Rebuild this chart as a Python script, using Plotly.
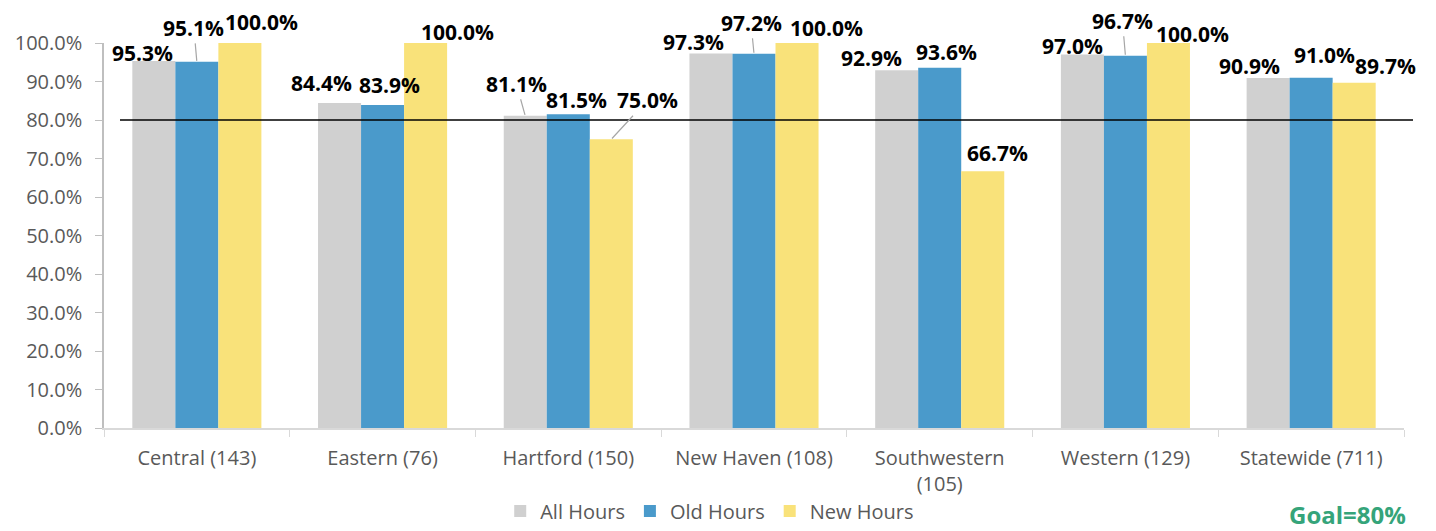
import plotly.graph_objects as go

# data
regions = ["Central (143)", "Eastern (76)", "Hartford (150)", "New Haven (108)",
           "Southwestern<br>(105)", "Western (129)", "Statewide (711)"]
all_hours = [0.953, 0.844, 0.811, 0.973, 0.929, 0.970, 0.909]
old_hours = [0.951, 0.839, 0.815, 0.972, 0.936, 0.967, 0.910]
new_hours = [1.000, 1.000, 0.750, 1.000, 0.667, 1.000, 0.897]
series_names = ["All Hours", "Old Hours", "New Hours"]
GOAL = 0.80

colors = ["#D0D0D0", "#4A9ACB", "#F9E27A"]

# label placement (px): (dx from bar centre, text centre above bar top, leader line?)
label_pos = [
    [(-11, 8, False), (-3, 34, True), (22, 21, False)],
    [(-18, 20, False), (7, 20, False), (32, 11, False)],
    [(-9, 32, True), (8, 14, False), (36, 39, True)],
    [(-17, 11, False), (-3, 31, True), (29, 15, False)],
    [(-25, 12, False), (7, 16, False), (15, 18, False)],
    [(-10, 9, False), (-3, 35, True), (24, 9, False)],
    [(-19, 12, False), (13, 23, False), (31, 17, False)],
]

# the page body keeps its default 8px margin, so lay the figure out 8px up/left
W, H = 1428, 523
ML, MR, MT, MB = 96, 32, 35, 103
BARGAP = 0.305
plot_w = W - ML - MR
plot_h = H - MT - MB
bar_px = plot_w / len(regions) * (1 - BARGAP) / 3

FONT = "Open Sans"

fig = go.Figure()
for name, vals, col in zip(series_names, [all_hours, old_hours, new_hours], colors):
    fig.add_trace(go.Bar(x=regions, y=vals, name=name, marker_color=col,
                         marker_line_width=0))

# goal line
fig.add_shape(type="line", xref="paper", yref="y", x0=16 / plot_w, x1=1 + 9 / plot_w,
              y0=GOAL, y1=GOAL, line=dict(color="black", width=1.5))
# chart border on the right
fig.add_shape(type="line", xref="paper", yref="paper", x0=1 + 27 / plot_w,
              x1=1 + 27 / plot_w, y0=-0.3, y1=1.1,
              line=dict(color="#D9D9D9", width=1.5))

# data labels
for ci, reg in enumerate(regions):
    for si, vals in enumerate([all_hours, old_hours, new_hours]):
        dx, dy, leader = label_pos[ci][si]
        off = (si - 1) * bar_px
        txt = f"{vals[ci]*100:.1f}%"
        common = dict(x=reg, y=vals[ci], xref="x", yref="y", text=txt,
                      font=dict(family=FONT, size=21, color="black", weight="bold"))
        if leader:
            fig.add_annotation(**common, showarrow=True, arrowhead=0,
                               arrowwidth=1.2, arrowcolor="#A6A6A6",
                               xshift=off, ax=dx, ay=-dy, standoff=1)
        else:
            fig.add_annotation(**common, showarrow=False, xanchor="center",
                               yanchor="middle", xshift=off + dx, yshift=dy)

# goal text
fig.add_annotation(text="Goal=80%", xref="paper", yref="paper",
                   x=1 + 4 / plot_w, y=-86 / plot_h, xanchor="right", yanchor="middle",
                   showarrow=False,
                   font=dict(family=FONT, size=24, color="#35A47A", weight="bold"))

fig.update_layout(
    width=W, height=H,
    margin=dict(l=ML, r=MR, t=MT, b=MB),
    paper_bgcolor="white", plot_bgcolor="white",
    barmode="group", bargap=BARGAP, bargroupgap=0,
    font=dict(family=FONT, color="#595959"),
    showlegend=True,
    legend=dict(orientation="h", xref="container", yref="container",
                x=0.4914, xanchor="center", y=(H - 503) / H, yanchor="middle",
                font=dict(size=20, color="#595959"), traceorder="normal"),
)
fig.update_yaxes(range=[0, 1], dtick=0.1, tickformat=".1%", showgrid=False,
                 showline=True, linecolor="#BFBFBF", linewidth=1.5,
                 ticks="outside", ticklen=7, tickcolor="#BFBFBF",
                 tickfont=dict(size=20, color="#595959"), ticklabelstandoff=9,
                 zeroline=False, automargin=False)
fig.update_xaxes(range=[-0.5, len(regions) - 0.5], showgrid=False, showline=True,
                 linecolor="#D9D9D9", linewidth=1.5,
                 ticks="outside", tickson="boundaries", ticklen=7, tickcolor="#D9D9D9",
                 tickfont=dict(size=20, color="#595959"), ticklabelstandoff=11,
                 automargin=False)

fig.write_html("out.html")
